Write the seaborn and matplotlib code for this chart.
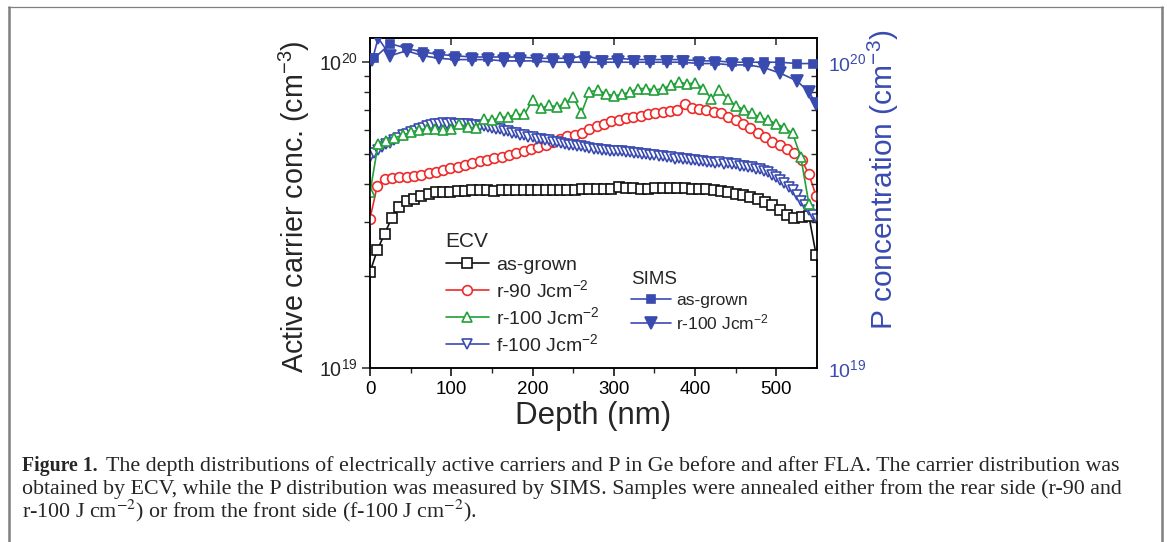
import matplotlib
matplotlib.use("Agg")
import matplotlib.pyplot as plt
import seaborn as sns
from matplotlib.lines import Line2D
from matplotlib.ticker import FixedLocator, NullFormatter, NullLocator

sns.set_style("ticks")
plt.rcParams["font.family"] = ["Liberation Sans", "DejaVu Sans"]
plt.rcParams["mathtext.fontset"] = "custom"
plt.rcParams["mathtext.rm"] = "Liberation Sans"
plt.rcParams["mathtext.it"] = "Liberation Sans:italic"
plt.rcParams["mathtext.bf"] = "Liberation Sans:bold"

# ---------------- data (concentrations in units of 1e19 cm^-3) ----------------
# ECV, as-grown and r-90 (depth in nm)
depth_ecv = [0, 9, 18, 27, 36, 45, 54, 63, 72, 81, 90, 99, 108, 117, 126, 135, 144,
             153, 162, 171, 180, 189, 198, 207, 216, 225, 234, 243, 252, 261, 270,
             279, 288, 297, 306, 315, 324, 333, 342, 351, 360, 369, 378, 387, 396,
             405, 414, 423, 432, 441, 450, 459, 468, 477, 486, 495, 504, 513, 522,
             531, 540, 549]
ecv_as_grown = [2.06, 2.43, 2.75, 3.10, 3.35, 3.52, 3.58, 3.64, 3.70, 3.75, 3.76, 3.77,
                3.79, 3.80, 3.81, 3.82, 3.82, 3.80, 3.81, 3.82, 3.82, 3.81, 3.82, 3.83,
                3.82, 3.83, 3.83, 3.82, 3.83, 3.84, 3.84, 3.85, 3.84, 3.86, 3.90, 3.88,
                3.87, 3.86, 3.86, 3.87, 3.87, 3.88, 3.89, 3.88, 3.86, 3.86, 3.84, 3.82,
                3.79, 3.76, 3.72, 3.68, 3.63, 3.56, 3.48, 3.40, 3.28, 3.17, 3.09, 3.12,
                3.14, 2.34]
ecv_r90 = [3.08, 3.95, 4.14, 4.19, 4.21, 4.22, 4.25, 4.29, 4.34, 4.39, 4.44, 4.50,
           4.55, 4.60, 4.67, 4.75, 4.80, 4.85, 4.90, 4.98, 5.05, 5.12, 5.20, 5.28,
           5.38, 5.49, 5.60, 5.72, 5.80, 5.88, 6.05, 6.20, 6.30, 6.40, 6.46, 6.55,
           6.60, 6.68, 6.75, 6.80, 6.85, 6.92, 6.96, 7.30, 7.08, 7.02, 6.98, 6.88,
           6.80, 6.62, 6.45, 6.30, 6.10, 5.88, 5.68, 5.50, 5.38, 5.22, 5.05, 4.80,
           4.30, 3.65]

# ECV, r-100
depth_r100 = [0, 10, 20, 30, 40, 50, 60, 70, 80, 90, 100, 110, 120, 130, 140, 150,
              160, 170, 180, 190, 200, 210, 220, 230, 240, 250, 260, 270, 280, 290,
              300, 310, 320, 330, 340, 350, 360, 370, 380, 390, 400, 410, 420, 430,
              440, 450, 460, 470, 480, 490, 500, 510, 520, 530, 540]
ecv_r100 = [3.75, 5.40, 5.52, 5.65, 5.78, 5.90, 6.00, 6.07, 6.05, 6.02, 6.05, 6.30,
            6.12, 6.10, 6.50, 6.45, 6.60, 6.62, 6.75, 6.75, 7.50, 7.06, 7.23, 7.14,
            7.33, 7.70, 6.80, 8.00, 8.10, 7.90, 7.75, 7.85, 8.00, 8.20, 8.20, 8.10,
            8.20, 8.40, 8.60, 8.50, 8.55, 8.20, 7.60, 8.10, 7.60, 7.20, 7.00, 6.80,
            6.60, 6.45, 6.30, 6.10, 5.85, 4.90, 3.45]

# ECV, f-100
depth_f100 = [0, 5, 10, 15, 20, 25, 30, 35, 40, 45, 50, 55, 60, 65, 70, 75, 80, 85,
              90, 95, 100, 105, 110, 115, 120, 125, 130, 135, 140, 145, 150, 155, 160,
              165, 170, 175, 180, 185, 190, 195, 200, 205, 210, 215, 220, 225, 230,
              235, 240, 245, 250, 255, 260, 265, 270, 275, 280, 285, 290, 295, 300,
              305, 310, 315, 320, 325, 330, 335, 340, 345, 350, 355, 360, 365, 370,
              375, 380, 385, 390, 395, 400, 405, 410, 415, 420, 425, 430, 435, 440,
              445, 450, 455, 460, 465, 470, 475, 480, 485, 490, 495, 500, 505, 510,
              515, 520, 525, 530, 535, 540, 545, 550]
ecv_f100 = [4.90, 5.05, 5.18, 5.28, 5.40, 5.46, 5.58, 5.66, 5.76, 5.82, 5.92, 5.97,
            6.05, 6.10, 6.17, 6.21, 6.26, 6.28, 6.31, 6.30, 6.32, 6.30, 6.30, 6.27,
            6.26, 6.22, 6.22, 6.18, 6.17, 6.12, 6.10, 6.05, 6.03, 5.97, 5.95, 5.89,
            5.86, 5.80, 5.77, 5.71, 5.69, 5.63, 5.62, 5.56, 5.55, 5.49, 5.48, 5.43,
            5.42, 5.37, 5.36, 5.31, 5.31, 5.27, 5.26, 5.22, 5.22, 5.18, 5.18, 5.14,
            5.14, 5.11, 5.11, 5.07, 5.08, 5.04, 5.04, 5.00, 5.00, 4.96, 4.96, 4.92,
            4.92, 4.88, 4.88, 4.84, 4.85, 4.81, 4.81, 4.78, 4.79, 4.76, 4.76, 4.72,
            4.73, 4.69, 4.70, 4.66, 4.67, 4.63, 4.63, 4.59, 4.59, 4.55, 4.54, 4.49,
            4.47, 4.41, 4.37, 4.27, 4.21, 4.11, 4.03, 3.91, 3.83, 3.67, 3.52, 3.40,
            3.28, 3.16, 3.08]

# SIMS (P concentration)
depth_sims_ag = [5, 25, 45, 65, 85, 105, 125, 145, 165, 185, 205, 225, 245, 265, 285,
                 305, 325, 345, 365, 385, 405, 425, 445, 465, 485, 505, 525, 545]
sims_as_grown = [10.3, 11.5, 11.1, 10.8, 10.6, 10.5, 10.4, 10.4, 10.4, 10.4, 10.3,
                 10.3, 10.3, 10.5, 10.2, 10.3, 10.2, 10.2, 10.2, 10.2, 10.1, 10.1,
                 10.0, 10.0, 10.0, 10.0, 9.9, 9.9]
depth_sims_r100 = [3, 10, 25, 45, 65, 85, 105, 125, 145, 165, 185, 205, 225, 245, 265,
                   285, 305, 325, 345, 365, 385, 405, 425, 445, 465, 485, 505, 525,
                   540, 549]
sims_r100 = [10.2, 12.0, 10.5, 10.9, 10.5, 10.3, 10.2, 10.2, 10.2, 10.1, 10.1, 10.1,
             10.0, 10.0, 10.0, 10.0, 10.0, 10.0, 10.0, 10.0, 10.0, 9.9, 9.9, 9.8,
             9.8, 9.6, 9.2, 8.7, 8.0, 7.3]

ecv_labels = ["as-grown", "r-90 Jcm$^{-2}$", "r-100 Jcm$^{-2}$", "f-100 Jcm$^{-2}$"]
sims_labels = ["as-grown", "r-100 Jcm$^{-2}$"]
x_ticks = [0, 100, 200, 300, 400, 500]

BLACK = "#111111"
RED = "#ee2b2b"
GREEN = "#22a03a"
BLUE = "#3a4bb0"
UNIT = 1e19

W, H = 1167, 542
fig = plt.figure(figsize=(W / 100, H / 100), dpi=100)
fig.patch.set_facecolor("white")
ax = fig.add_axes([370 / W, 1 - 368 / H, 447 / W, 330 / H])
ax.set_facecolor("white")


def draw(target, x, y, color, marker, ms, filled, label, z):
    sns.lineplot(x=x, y=[v * UNIT for v in y], ax=target, color=color,
                 marker=marker, markersize=ms,
                 markerfacecolor=color if filled else "white",
                 markeredgecolor=color, markeredgewidth=1.2, linewidth=1.2,
                 label=label, legend=False, sort=False, zorder=z)
    return target.get_lines()[-1]


h_ag = draw(ax, depth_ecv, ecv_as_grown, BLACK, "s", 6.8, False, ecv_labels[0], 3)
h_r90 = draw(ax, depth_ecv, ecv_r90, RED, "o", 7.0, False, ecv_labels[1], 3)
h_f100 = draw(ax, depth_f100, ecv_f100, BLUE, "v", 7.6, False, ecv_labels[3], 3)
h_r100 = draw(ax, depth_r100, ecv_r100, GREEN, "^", 7.6, False, ecv_labels[2], 4)

ax2 = ax.twinx()
s_ag = draw(ax2, depth_sims_ag, sims_as_grown, BLUE, "s", 6.2, True, sims_labels[0], 3)
s_r100 = draw(ax2, depth_sims_r100, sims_r100, BLUE, "v", 8.0, True, sims_labels[1], 3)

for a in (ax, ax2):
    a.set_yscale("log")
    a.set_ylim(1e19, 1.2e20)
    a.set_xlim(0, 550)
    a.set_ylabel("")
    a.set_xlabel("")
    for sp in a.spines.values():
        sp.set_linewidth(1.1)
        sp.set_color("black")
        sp.set_visible(True)

# x axis
ax.xaxis.set_major_locator(FixedLocator(x_ticks))
ax.xaxis.set_minor_locator(FixedLocator([50, 150, 250, 350, 450]))
ax.set_xticklabels([str(t) for t in x_ticks])
ax.tick_params(axis="x", which="major", direction="out", length=6, width=1.1,
               labelsize=13.5, pad=3, colors="black")
ax.tick_params(axis="x", which="minor", direction="out", length=3.5, width=1.0)
top = ax.secondary_xaxis("top")
top.xaxis.set_major_locator(FixedLocator(x_ticks))
top.xaxis.set_minor_locator(NullLocator())
top.tick_params(direction="in", length=5, width=1.1, labeltop=False)
top.spines["top"].set_linewidth(1.1)

# left y axis
minor_pos = [m * UNIT for m in range(2, 10)]
ax.yaxis.set_major_locator(FixedLocator([1e19, 1e20]))
ax.yaxis.set_minor_locator(FixedLocator(minor_pos))
ax.yaxis.set_minor_formatter(NullFormatter())
ax.set_yticklabels(["$10^{19}$", "$10^{20}$"])
ax.tick_params(axis="y", which="major", direction="out", length=6, width=1.1,
               labelsize=14.2, pad=3)
ax.tick_params(axis="y", which="minor", direction="out", length=4, width=1.0)

# right y axis
ax2.yaxis.set_major_locator(FixedLocator([1e19, 1e20]))
ax2.yaxis.set_minor_locator(FixedLocator(minor_pos))
ax2.yaxis.set_minor_formatter(NullFormatter())
ax2.set_yticklabels(["$10^{19}$", "$10^{20}$"])
ax2.tick_params(axis="y", which="major", direction="in", length=6, width=1.1,
                labelsize=14, pad=8, labelcolor=BLUE)
ax2.tick_params(axis="y", which="minor", direction="in", length=4, width=1.0)

ax.set_xlabel("Depth (nm)", fontsize=22.5)
ax.xaxis.set_label_coords(0.499, -0.10)
ax.set_ylabel("Active carrier conc. (cm$^{-3}$)", fontsize=20.6)
ax.yaxis.set_label_coords(-0.13, 0.49)
ax2.set_ylabel("P concentration (cm$^{-3}$)", fontsize=21.5, color=BLUE)
ax2.yaxis.set_label_coords(1.11, 0.57)

# legends
leg1 = ax2.legend(handles=[h_ag, h_r90, h_r100, h_f100], labels=ecv_labels,
                  title="ECV", loc="upper left", frameon=False, fontsize=14,
                  title_fontsize=15, handlelength=2.2, handletextpad=0.4,
                  labelspacing=0.27, borderpad=0, alignment="left",
                  bbox_to_anchor=(436 / W, 1 - 222 / H), bbox_transform=fig.transFigure)
ax2.add_artist(leg1)
leg2 = ax2.legend(handles=[s_ag, s_r100], labels=sims_labels, title="SIMS",
                  loc="upper left", frameon=False, fontsize=12.5, title_fontsize=13.5,
                  handlelength=2.3, handletextpad=0.3, labelspacing=0.25, borderpad=0,
                  alignment="left", bbox_to_anchor=(622 / W, 1 - 262.5 / H),
                  bbox_transform=fig.transFigure)

# figure frame
frame_kw = dict(transform=fig.transFigure, color="#7f7f7f")
fig.add_artist(Line2D([9 / W, 9 / W], [0, 1 - 7 / H], lw=1.8, **frame_kw))
fig.add_artist(Line2D([8 / W, 1163 / W], [1 - 7 / H, 1 - 7 / H], lw=0.9, **frame_kw))
fig.add_artist(Line2D([1162 / W, 1162 / W], [0, 1 - 7 / H], lw=1.8, **frame_kw))

# caption
serif = ["Liberation Serif", "DejaVu Serif"]
cap_size = 15.8
renderer = fig.canvas.get_renderer()
t_bold = fig.text(22 / W, 1 - 471 / H, "Figure 1.", fontsize=14.2, family=serif,
                  fontweight="bold", va="baseline", ha="left")
bb = t_bold.get_window_extent(renderer)
fig.text((bb.x1 + 8) / W, 1 - 471 / H,
         "The depth distributions of electrically active carriers and P in Ge before "
         "and after FLA. The carrier distribution was",
         fontsize=cap_size, family=serif, va="baseline", ha="left")
fig.text(22 / W, 1 - 494 / H,
         "obtained by ECV, while the P distribution was measured by SIMS. Samples were "
         "annealed either from the rear side (r-90 and",
         fontsize=cap_size, family=serif, va="baseline", ha="left")
fig.text(22 / W, 1 - 517 / H,
         "r-100 J cm$^{-2}$) or from the front side (f-100 J cm$^{-2}$).",
         fontsize=cap_size, family=serif, va="baseline", ha="left",
         math_fontfamily="stix")

fig.savefig("out.png", dpi=100, facecolor="white")
